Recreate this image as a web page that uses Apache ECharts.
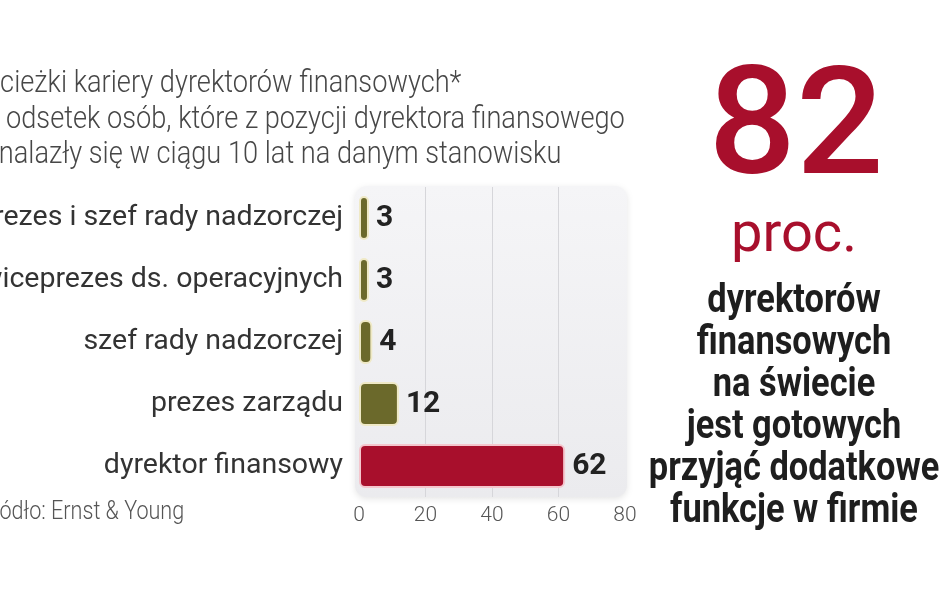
<!DOCTYPE html>
<html><head><meta charset="utf-8">
<script src="https://cdn.jsdelivr.net/npm/echarts@6.0.0/dist/echarts.min.js"></script>
<style>html,body{margin:0;padding:0;background:#fff}#c{width:948px;height:593px}</style>
</head><body><div id="c"></div>
<script>
const categories = ['prezes i szef rady nadzorczej', 'wiceprezes ds. operacyjnych', 'szef rady nadzorczej', 'prezes zarządu', 'dyrektor finansowy'];
const values = [3, 3, 4, 12, 62];
const barColors = ['#6b692b', '#6b692b', '#6b692b', '#6b692b', '#a80f2c'];
const barBorders = ['#efe9c6', '#efe9c6', '#efe9c6', '#efe9c6', '#f4c6cd'];
const axisMin = 0, axisMax = 80, axisStep = 20;
const titleLines = ['Ścieżki kariery dyrektorów finansowych*', 'odsetek osób, które z pozycji dyrektora finansowego', 'znalazły się w ciągu 10 lat na danym stanowisku'];
const sourceText = 'Źródło: Ernst & Young';
const bigNumber = '82';
const bigUnit = 'proc.';
const sideLines = ['dyrektorów', 'finansowych', 'na świecie', 'jest gotowych', 'przyjąć dodatkowe', 'funkcje w firmie'];

const chart = echarts.init(document.getElementById('c'), null, {renderer: 'canvas'});

const titleX = [-16, 6, -14.5];
const titleY = [84, 120, 155];
const graphic = [];
graphic.push({
  type: 'rect', z: -10, silent: true,
  shape: {x: 355, y: 186, width: 272, height: 311, r: 12},
  style: {
    fill: new echarts.graphic.LinearGradient(0, 0, 0, 1, [{offset: 0, color: '#f5f5f7'}, {offset: 1, color: '#ebebee'}]),
    shadowBlur: 6, shadowColor: 'rgba(0,0,0,0.10)', shadowOffsetY: 2
  }
});
titleLines.forEach((t, i) => {
  graphic.push({
    type: 'text', x: titleX[i], y: titleY[i], scaleX: 0.85,
    style: {text: t, fill: '#474747', font: '300 32px Roboto', textAlign: 'left', textVerticalAlign: 'middle'}
  });
});
graphic.push({
  type: 'text', x: -20.5, y: 512, scaleX: 0.83,
  style: {text: sourceText, fill: '#555', font: '300 26px Roboto', textAlign: 'left', textVerticalAlign: 'middle'}
});
graphic.push({
  type: 'text', x: 796, y: 135, scaleX: 1.03,
  style: {text: bigNumber, fill: '#a80f2c', font: '500 150px Roboto', textAlign: 'center', textVerticalAlign: 'middle'}
});
graphic.push({
  type: 'text', x: 794, y: 237, scaleX: 1.0,
  style: {text: bigUnit, fill: '#a80f2c', font: '400 56px Roboto', textAlign: 'center', textVerticalAlign: 'middle'}
});
sideLines.forEach((t, i) => {
  graphic.push({
    type: 'text', x: 794, y: 302 + i * 42, scaleX: 0.86,
    style: {text: t, fill: '#1e1e1e', font: 'bold 40px Roboto', textAlign: 'center', textVerticalAlign: 'middle'}
  });
});

chart.setOption({
  animation: false,
  backgroundColor: '#ffffff',
  grid: {left: 359, right: 323, top: 187, bottom: 96, containLabel: false, outerBoundsMode: 'none'},
  xAxis: {
    type: 'value', min: axisMin, max: axisMax, interval: axisStep,
    axisLine: {show: false}, axisTick: {show: false},
    axisLabel: {color: '#555', fontSize: 21, fontFamily: 'Roboto', fontWeight: 300, margin: 8},
    splitLine: {show: true, lineStyle: {color: ['rgba(0,0,0,0)', '#d6d6da', '#d6d6da', '#d6d6da', 'rgba(0,0,0,0)'], width: 1}}
  },
  yAxis: {
    type: 'category', inverse: true, data: categories,
    axisLine: {show: false}, axisTick: {show: false},
    axisLabel: {color: '#333', fontSize: 28.5, fontFamily: 'Roboto', margin: 16}
  },
  series: [{
    type: 'bar',
    data: values.map((v, i) => ({value: v, itemStyle: {color: barColors[i], borderColor: barBorders[i]}})),
    barWidth: 44,
    itemStyle: {borderWidth: 2, borderRadius: 5},
    label: {show: true, position: 'right', distance: 7, color: '#222', fontSize: 30, fontWeight: 'bold', fontFamily: 'Roboto'}
  }],
  graphic: graphic
});
</script></body></html>
